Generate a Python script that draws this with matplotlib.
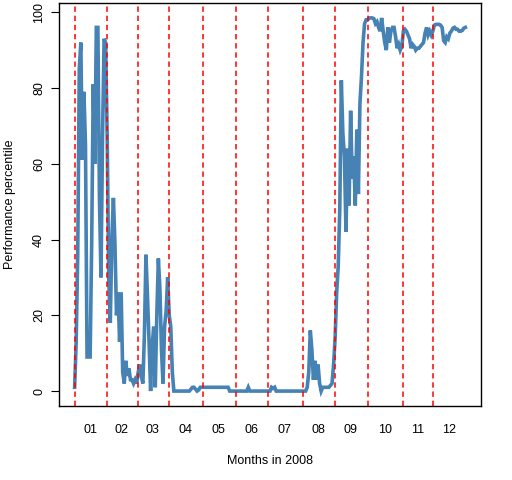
import numpy as np
import matplotlib.pyplot as plt

# daily performance percentile, trading days of 2008, one list per month
jan = [1, 13, 36, 85, 92, 61, 79, 65, 9, 9, 9, 39, 81, 60, 96, 96, 51, 30, 67, 93, 92]
feb = [67, 30, 18, 40, 51, 39, 20, 26, 13, 26, 5, 2, 8, 4, 6, 3, 3, 2, 3, 2]
mar = [5, 7, 4, 2, 15, 36, 25, 13, 0, 12, 17, 1, 20, 35, 27, 11, 2, 17, 21, 30]
apr = [20, 17, 5, 0, 0, 0, 0, 0, 0, 0, 0, 0, 0, 0, 0.5, 1, 1, 0.5, 0, 0.3, 1, 1]
may = [1, 1, 1, 1, 1, 1, 1, 1, 1, 1, 1, 1, 1, 1, 1, 1, 1, 0, 0, 0, 0]
jun = [0, 0, 0, 0, 0, 0, 0, 0, 1, 0, 0, 0, 0, 0, 0, 0, 0, 0, 0, 0, 0]
jul = [0, 0, 1, 0.7, 1, 0, 0, 0, 0, 0, 0, 0, 0, 0, 0, 0, 0, 0, 0, 0, 0, 0]
aug = [0, 0, 0, 1, 5, 16, 11, 3, 8, 3, 7, 2, 0, 1, 1, 1, 1, 1, 1.5, 2, 7]
sep = [14, 26, 33, 48, 82, 68, 62, 42, 64, 49, 74, 56, 62, 49, 69, 52, 76, 83, 92, 97, 98]
octo = [98, 98.5, 98.5, 98.5, 98.3, 97, 97.5, 96, 95, 98.5, 95, 92, 90, 96, 92, 95,
        96, 96, 93.5, 90.5, 91.5, 90, 91]
nov = [95, 95.5, 95, 94, 93, 90.5, 91.5, 91, 90, 90.5, 90.5, 91, 91.5, 92, 94.5, 96, 94, 95, 94]
dec = [95, 96.6, 96.8, 96.8, 96.8, 96.6, 96, 92.5, 92, 93.5, 93, 94.5, 95, 95.8, 96,
       95.5, 95.5, 95, 95, 95.2, 95.8, 96]

month_labels = ['01', '02', '03', '04', '05', '06', '07', '08', '09', '10', '11', '12']

months = [jan, feb, mar, apr, may, jun, jul, aug, sep, octo, nov, dec]
pct = np.concatenate([np.array(m, dtype=float) for m in months])
day = np.arange(1, len(pct) + 1)
sizes = np.array([len(m) for m in months])
starts = np.cumsum(np.r_[0, sizes[:-1]]) + 1
ends = starts + sizes - 1
mids = (starts + ends) / 2

fig = plt.figure(figsize=(5.12, 4.8), dpi=100)
ax = fig.add_axes([59 / 512, 1 - 406 / 480, 422 / 512, 403 / 480])

ax.plot(day, pct, color='steelblue', lw=2.6, solid_joinstyle='miter')
for s in starts:
    ax.axvline(s, color='red', lw=1.1, ls=(0, (3.5, 2.5)))

n = len(pct)
ax.set_xlim(1 - 0.04 * (n - 1), n + 0.04 * (n - 1))
ax.set_ylim(-3.94, 102.44)

ax.set_yticks(np.arange(0, 101, 20))
ax.set_yticklabels([str(v) for v in range(0, 101, 20)], rotation=90, va='center')
ax.set_xticks(mids)
ax.set_xticklabels(month_labels)
ax.tick_params(axis='x', length=0, pad=13, labelsize=9)
ax.tick_params(axis='y', length=6, width=0.8, pad=4, labelsize=9)

for sp in ax.spines.values():
    sp.set_linewidth(1.0)

ax.set_xlabel('Months in 2008', fontsize=9, labelpad=14)
ax.set_ylabel('Performance percentile', fontsize=9, labelpad=12)

plt.rcParams['font.family'] = ['Liberation Sans', 'DejaVu Sans']
for t in ax.get_xticklabels() + ax.get_yticklabels() + [ax.xaxis.label, ax.yaxis.label]:
    t.set_family(['Liberation Sans', 'DejaVu Sans'])

fig.savefig('out.png', dpi=100)
